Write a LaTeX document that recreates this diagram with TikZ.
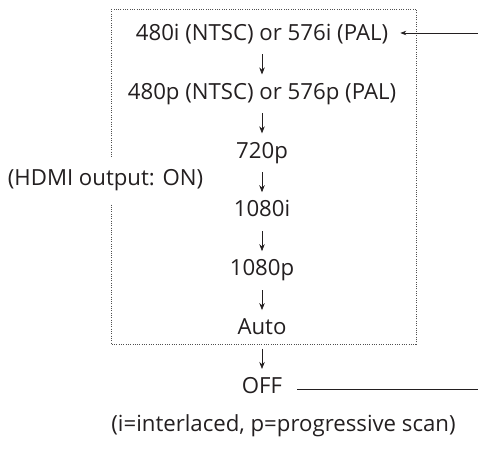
\documentclass[tikz,border=0pt]{standalone}
\usepackage{fontspec}
\setmainfont{Open Sans}
\usetikzlibrary{arrows.meta,positioning}
\definecolor{ink}{RGB}{35,31,32}
\definecolor{dotgray}{RGB}{80,80,80}

\begin{document}
\begin{tikzpicture}[x=1pt,y=1pt,node distance=38pt,
    every node/.style={font=\fontsize{22.2}{26}\selectfont,text=ink},
    mode/.style={inner sep=0pt,text height=15.5pt,text depth=5pt},
    nextarrow/.style={-{Stealth[length=7pt,width=5.5pt]},ink,line width=0.7pt,shorten <=9pt,shorten >=9pt}]
    \useasboundingbox (0,0) rectangle (478,-449);
    \node[mode] (ntsci) at (262,-35) {480i (NTSC) or 576i (PAL)};
    \node[mode,below=of ntsci] (ntscp) {480p (NTSC) or 576p (PAL)};
    \node[mode,below=of ntscp] (hd) {720p};
    \node[mode,below=of hd] (fhdi) {1080i};
    \node[mode,below=of fhdi] (fhdp) {1080p};
    \node[mode,below=of fhdp] (auto) {Auto};
    \node[mode,below=of auto] (off) {OFF};
    % dotted frame round the HDMI modes
    \draw[dotgray,line width=0.8pt,dash pattern=on 1pt off 1.3pt] (111,-9) rectangle (416,-344);
    \node[fill=white,inner xsep=2pt,inner ysep=12pt] (hdmi) at (105.5,-180) {(HDMI output: ON)};
    \node (note) at (283.5,-426) {(i=interlaced, p=progressive scan)};
    \coordinate (inR) at (478,-33);
    \coordinate (outR) at (478,-389);
    \foreach \a/\b in {ntsci/ntscp,ntscp/hd,hd/fhdi,fhdi/fhdp,fhdp/auto,auto/off}
      \draw[nextarrow] (\a) -- (\b);
    \draw[-{Stealth[length=6pt,width=4.5pt]},ink,line width=0.7pt,shorten >=12pt] (inR) -- (ntsci.east |- inR);
    \draw[ink,line width=0.7pt,shorten <=15pt] (off.east |- outR) -- (outR);
\end{tikzpicture}
\end{document}
